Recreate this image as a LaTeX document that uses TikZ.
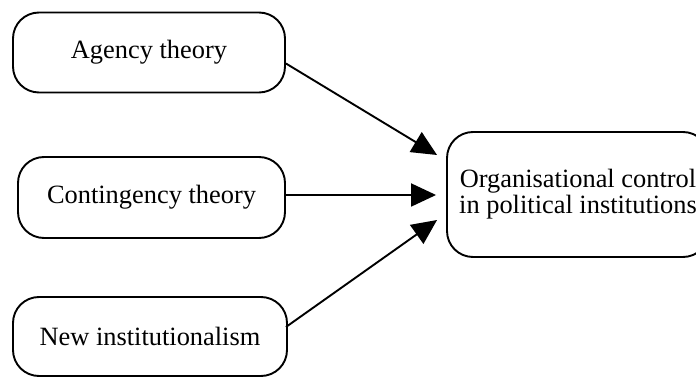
\documentclass[tikz,border=0pt]{standalone}
\usepackage{fontspec}
\setmainfont{Liberation Serif}
\usetikzlibrary{arrows.meta,calc}
\begin{document}
\begin{tikzpicture}[x=1pt,y=-1pt,
  theorybox/.style={draw,line width=1.9pt,rounded corners=26pt,
    font=\fontsize{26.4}{26}\selectfont,inner sep=0pt},
  link/.style={line width=1.9pt,-{Triangle[length=25pt,width=23pt]}}]
\useasboundingbox (0,0) rectangle (696,379);
\clip (0,0) rectangle (696,379);
\node[theorybox,minimum width=272pt,minimum height=80pt] (agency) at (149,52.5) {Agency theory};
\node[theorybox,minimum width=267pt,minimum height=81pt] (contingency) at (151.5,197.5) {Contingency theory};
\node[theorybox,minimum width=274pt,minimum height=79pt] (newinst) at (150,336.5) {New institutionalism};
\node[theorybox,minimum width=262pt,minimum height=125pt,align=center] (org) at (578,194.5)
  {Organisational control\\in political institutions};
% arrow tips stop a little short of the target box
\coordinate (tipA) at ($(org.west)+(-9,-39.5)$);
\coordinate (tipB) at ($(org.west)+(-10,0.5)$);
\coordinate (tipC) at ($(org.west)+(-9,25.5)$);
\draw[link] ($(agency.east)+(0,11)$) -- (tipA);
\draw[link] ($(contingency.east)+(0,-2.5)$) -- (tipB);
\draw[link] ($(newinst.east)+(-2,-9.5)$) -- (tipC);
\end{tikzpicture}
\end{document}
